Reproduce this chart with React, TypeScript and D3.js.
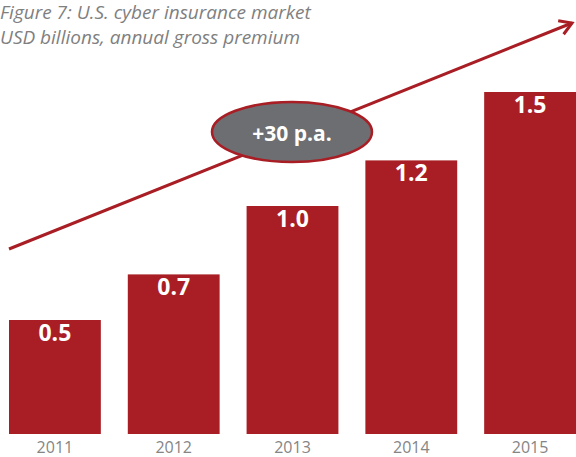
import React from "react";
import * as d3 from "d3";

const years = ["2011", "2012", "2013", "2014", "2015"];
const premiums = [0.5, 0.7, 1.0, 1.2, 1.5];
const valueLabels = ["0.5", "0.7", "1.0", "1.2", "1.5"];
const titleLines = ["Figure 7: U.S. cyber insurance market", "USD billions, annual gross premium"];
const growthLabel = "+30 p.a.";

const W = 576;
const H = 457;
const RED = "#a81e24";
const GRAY_TEXT = "#7f7f7f";
const FONT = "'Open Sans', 'Noto Sans', sans-serif";

export default function App() {
  const x = d3.scaleBand<string>().domain(years).range([9, 576]).paddingInner(0.227).paddingOuter(0);
  const y = d3.scaleLinear().domain([0, 1.5]).range([434, 92]);

  // arrow geometry
  const ax0 = 9, ay0 = 249, ax1 = 572, ay1 = 23;
  const ang = Math.atan2(ay1 - ay0, ax1 - ax0);
  const headLen = 14;
  const headAng = 0.55;
  const h1 = [ax1 - headLen * Math.cos(ang - headAng), ay1 - headLen * Math.sin(ang - headAng)];
  const h2 = [ax1 - headLen * Math.cos(ang + headAng), ay1 - headLen * Math.sin(ang + headAng)];

  return (
    <svg width={W} height={H} style={{ position: "absolute", left: 0, top: 0, display: "block" }} fontFamily={FONT}>
      <rect width={W} height={H} fill="#fff" />
      {titleLines.map((t, i) => (
        <text key={i} x={0} y={19 + i * 25} fontSize={19} fontStyle="italic" fill={GRAY_TEXT}>
          {t}
        </text>
      ))}
      {years.map((yr, i) => (
        <g key={yr}>
          <rect x={x(yr)} y={y(premiums[i])} width={x.bandwidth()} height={y(0) - y(premiums[i])} fill={RED} />
          <text x={(x(yr) as number) + x.bandwidth() / 2} y={y(premiums[i]) + 21} textAnchor="middle" fontSize={23} fontWeight="bold" fill="#fff">
            {valueLabels[i]}
          </text>
          <text x={(x(yr) as number) + x.bandwidth() / 2} y={453} textAnchor="middle" fontSize={16} fill="#858585">
            {yr}
          </text>
        </g>
      ))}
      <line x1={ax0} y1={ay0} x2={ax1} y2={ay1} stroke={RED} strokeWidth={3} />
      <polyline points={`${h1[0]},${h1[1]} ${ax1},${ay1} ${h2[0]},${h2[1]}`} fill="none" stroke={RED} strokeWidth={3} strokeLinejoin="miter" />
      <ellipse cx={292} cy={132} rx={80} ry={30} fill="#6d6e71" stroke={RED} strokeWidth={2.5} />
      <text x={292} y={141} textAnchor="middle" fontSize={21} fontWeight="bold" fill="#fff">
        {growthLabel}
      </text>
    </svg>
  );
}
